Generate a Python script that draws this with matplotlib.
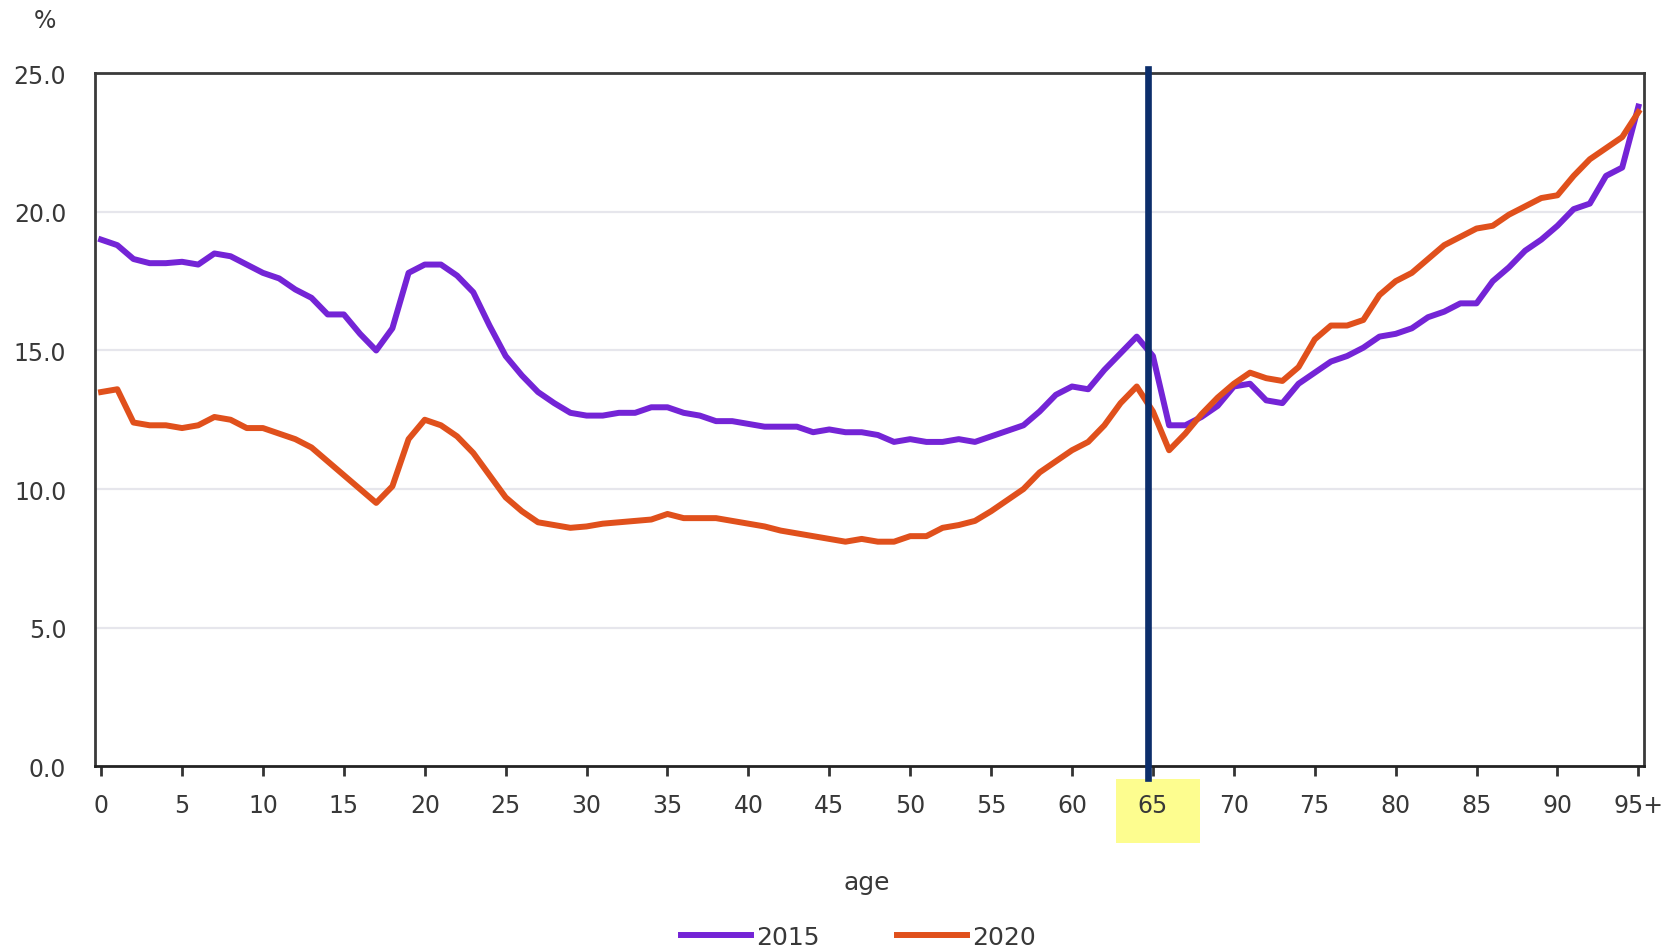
import matplotlib
matplotlib.use("Agg")
import matplotlib.pyplot as plt
from matplotlib.patches import Rectangle

# share (%) by single year of age, 0 .. 95+
ages = list(range(0, 96))
pct_2015 = [19.0, 18.8, 18.3, 18.15, 18.15, 18.2, 18.1, 18.5, 18.4, 18.1,
            17.8, 17.6, 17.2, 16.9, 16.3, 16.3, 15.6, 15.0, 15.8, 17.8,
            18.1, 18.1, 17.7, 17.1, 15.9, 14.8, 14.1, 13.5, 13.1, 12.75,
            12.65, 12.65, 12.75, 12.75, 12.95, 12.95, 12.75, 12.65, 12.45, 12.45,
            12.35, 12.25, 12.25, 12.25, 12.05, 12.15, 12.05, 12.05, 11.95, 11.7,
            11.8, 11.7, 11.7, 11.8, 11.7, 11.9, 12.1, 12.3, 12.8, 13.4,
            13.7, 13.6, 14.3, 14.9, 15.5, 14.8, 12.3, 12.3, 12.6, 13.0,
            13.7, 13.8, 13.2, 13.1, 13.8, 14.2, 14.6, 14.8, 15.1, 15.5,
            15.6, 15.8, 16.2, 16.4, 16.7, 16.7, 17.5, 18.0, 18.6, 19.0,
            19.5, 20.1, 20.3, 21.3, 21.6, 23.8]
pct_2020 = [13.5, 13.6, 12.4, 12.3, 12.3, 12.2, 12.3, 12.6, 12.5, 12.2,
            12.2, 12.0, 11.8, 11.5, 11.0, 10.5, 10.0, 9.5, 10.1, 11.8,
            12.5, 12.3, 11.9, 11.3, 10.5, 9.7, 9.2, 8.8, 8.7, 8.6,
            8.65, 8.75, 8.8, 8.85, 8.9, 9.1, 8.95, 8.95, 8.95, 8.85,
            8.75, 8.65, 8.5, 8.4, 8.3, 8.2, 8.1, 8.2, 8.1, 8.1,
            8.3, 8.3, 8.6, 8.7, 8.85, 9.2, 9.6, 10.0, 10.6, 11.0,
            11.4, 11.7, 12.3, 13.1, 13.7, 12.8, 11.4, 12.0, 12.7, 13.3,
            13.8, 14.2, 14.0, 13.9, 14.4, 15.4, 15.9, 15.9, 16.1, 17.0,
            17.5, 17.8, 18.3, 18.8, 19.1, 19.4, 19.5, 19.9, 20.2, 20.5,
            20.6, 21.3, 21.9, 22.3, 22.7, 23.6]
tick_ages = list(range(0, 96, 5))
tick_labels = [str(a) for a in tick_ages[:-1]] + ["95+"]
y_ticks = [0, 5, 10, 15, 20, 25]
marker_age = 64.7   # retirement age line (65)

txt = "#383838"
fs = 17

fig = plt.figure(figsize=(16.63, 9.53), dpi=100)
ax = fig.add_axes([0.0574, 0.195, 0.9312, 0.727])

l1, = ax.plot(ages, pct_2015, color="#7424d6", lw=4.3, solid_joinstyle="round", label="2015")
l2, = ax.plot(ages, pct_2020, color="#e0501c", lw=4.3, solid_joinstyle="round", label="2020")

ax.axvline(marker_age, ymin=-0.017, ymax=1.006, color="#0c2e6b", lw=4.8, clip_on=False, zorder=5)

ax.set_xlim(-0.35, 95.35)
ax.set_ylim(0, 25)
ax.set_yticks(y_ticks)
ax.set_yticklabels(["%.1f" % v for v in y_ticks])
ax.set_xticks(tick_ages)
ax.set_xticklabels(tick_labels)

for v in y_ticks[1:-1]:
    ax.axhline(v, color="#e6e6ec", lw=1.6, zorder=0)

for s in ax.spines.values():
    s.set_color("#3a3a3a")
    s.set_linewidth(2.0)
ax.spines["bottom"].set_color("#222222")

ax.tick_params(axis="y", length=0, pad=21, labelsize=fs, labelcolor=txt)
ax.tick_params(axis="x", length=7, width=2, color="#333333", pad=12, labelsize=fs, labelcolor=txt)

fig.text(0.0268, 0.978, "%", ha="center", va="center", fontsize=fs, color=txt)
fig.text(0.521, 0.073, "age", ha="center", va="center", fontsize=fs + 1, color=txt)

fig.legend(handles=[l1, l2], loc="center", bbox_to_anchor=(0.516, 0.0155), ncol=2,
           frameon=False, fontsize=fs + 1, handlelength=2.8, handletextpad=0.2,
           columnspacing=3.1, labelcolor=txt)

# yellow highlight behind the 65 label, sized from the label itself
fig.canvas.draw()
for lab in ax.get_xticklabels():
    if lab.get_text() == "65":
        bb = lab.get_window_extent()
        cx = (bb.x0 + bb.x1) / 2 + 5
        cy = (bb.y0 + bb.y1) / 2 - 6
        w, h = 84, 64
        W, H = fig.bbox.width, fig.bbox.height
        fig.patches.append(Rectangle(((cx - w / 2) / W, (cy - h / 2) / H), w / W, h / H,
                                     transform=fig.transFigure, facecolor="#fdfd8f",
                                     edgecolor="none", zorder=-1))

fig.savefig("out.png", dpi=100, facecolor="white")
